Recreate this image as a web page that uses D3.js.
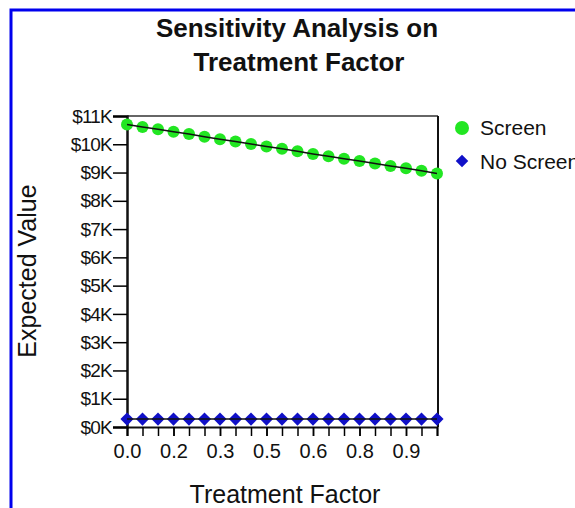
<!DOCTYPE html>
<html>
<head>
<meta charset="utf-8">
<script src="https://cdn.jsdelivr.net/npm/d3@7"></script>
<style>
  body { margin: 0; background: #fff; }
  svg { display: block; font-family: "Liberation Sans", Arial, sans-serif; }
</style>
</head>
<body>
<script>
// datos
var factor = [0, 0.05, 0.1, 0.15, 0.2, 0.25, 0.3, 0.35, 0.4, 0.45, 0.5,
              0.55, 0.6, 0.65, 0.7, 0.75, 0.8, 0.85, 0.9, 0.95, 1.0];
var screen = [10700, 10610, 10530, 10440, 10360, 10270, 10180, 10100, 10010, 9920, 9840,
              9750, 9660, 9580, 9490, 9410, 9320, 9230, 9150, 9060, 8970];
var noScreen = [280, 280, 280, 280, 280, 280, 280, 280, 280, 280, 280,
                280, 280, 280, 280, 280, 280, 280, 280, 280, 280];
var xTicks = [0, 0.15, 0.3, 0.45, 0.6, 0.75, 0.9];
var xTickLabels = ["0.0", "0.2", "0.3", "0.5", "0.6", "0.8", "0.9"];
var yTicks = [0, 1000, 2000, 3000, 4000, 5000, 6000, 7000, 8000, 9000, 10000, 11000];
var seriesNames = ["Screen", "No Screen"];

var w = 575, h = 508;
var mLeft = 127, mRight = 437, mTop = 116, mBottom = 427;

var svg = d3.select("body").append("svg")
    .attr("width", w)
    .attr("height", h);

// marco azul
svg.append("rect")
    .attr("x", 11).attr("y", 10)
    .attr("width", w + 20).attr("height", h + 20)
    .attr("fill", "none")
    .attr("stroke", "#0000ee")
    .attr("stroke-width", 3);

var xScale = d3.scaleLinear().domain([0, 1]).range([mLeft, mRight]);
var yScale = d3.scaleLinear().domain([0, 11000]).range([mBottom, mTop]);

// titulo
svg.append("text")
    .attr("x", 297).attr("y", 37)
    .attr("text-anchor", "middle")
    .attr("font-size", "26px").attr("font-weight", "bold").attr("fill", "#111")
    .text("Sensitivity Analysis on");
svg.append("text")
    .attr("x", 299).attr("y", 71)
    .attr("text-anchor", "middle")
    .attr("font-size", "26px").attr("font-weight", "bold").attr("fill", "#111")
    .text("Treatment Factor");

// lineas del marco superior y derecho
svg.append("line")
    .attr("x1", mLeft).attr("x2", mRight + 1)
    .attr("y1", mTop).attr("y2", mTop)
    .attr("stroke", "#333").attr("stroke-width", 1.5);
svg.append("line")
    .attr("x1", mRight + 1).attr("x2", mRight + 1)
    .attr("y1", mTop).attr("y2", mBottom)
    .attr("stroke", "#111").attr("stroke-width", 2);

// ejes
var yAxis = d3.axisLeft(yScale)
    .tickValues(yTicks)
    .tickSize(14)
    .tickPadding(1)
    .tickFormat(function(d) { return "$" + (d / 1000) + "K"; });

var gy = svg.append("g")
    .attr("transform", "translate(" + mLeft + ",0)")
    .call(yAxis);
gy.select(".domain").attr("stroke-width", 2.5).attr("stroke", "#111");
gy.selectAll(".tick line").attr("stroke-width", 1.5);
gy.selectAll("text").attr("font-size", "19px").attr("fill", "#111")
    .attr("letter-spacing", "-0.8px")
    .attr("font-family", "Liberation Sans, Arial, sans-serif");

var xMinor = d3.axisBottom(xScale)
    .tickValues(factor)
    .tickSize(9)
    .tickFormat("");
var gxm = svg.append("g")
    .attr("transform", "translate(0," + mBottom + ")")
    .call(xMinor);
gxm.select(".domain").attr("stroke-width", 2).attr("stroke", "#111");
gxm.selectAll(".tick line").attr("stroke-width", 1.5);

var xAxis = d3.axisBottom(xScale)
    .tickValues(xTicks)
    .tickSize(9)
    .tickPadding(8)
    .tickFormat(function(d, i) { return xTickLabels[i]; });
var gx = svg.append("g")
    .attr("transform", "translate(0," + mBottom + ")")
    .call(xAxis);
gx.select(".domain").remove();
gx.selectAll(".tick line").attr("stroke-width", 1.5);
gx.selectAll("text").attr("font-size", "20px").attr("fill", "#111")
    .attr("font-family", "Liberation Sans, Arial, sans-serif");

// titulos de ejes
svg.append("text")
    .attr("x", 285).attr("y", 503)
    .attr("text-anchor", "middle")
    .attr("font-size", "25px").attr("fill", "#111")
    .text("Treatment Factor");
svg.append("text")
    .attr("transform", "translate(36,271) rotate(-90)")
    .attr("text-anchor", "middle")
    .attr("font-size", "25px").attr("fill", "#111")
    .text("Expected Value");

// series
var line = d3.line()
    .x(function(d, i) { return xScale(factor[i]); })
    .y(function(d) { return yScale(d); });

svg.selectAll(".screen")
    .data(screen)
    .enter()
    .append("circle")
    .attr("class", "screen")
    .attr("cx", function(d, i) { return xScale(factor[i]); })
    .attr("cy", function(d) { return yScale(d); })
    .attr("r", 6)
    .attr("fill", "#22e622");

svg.selectAll(".noscreen")
    .data(noScreen)
    .enter()
    .append("path")
    .attr("class", "noscreen")
    .attr("d", d3.symbol().type(d3.symbolDiamond2).size(110))
    .attr("transform", function(d, i) {
        return "translate(" + xScale(factor[i]) + "," + yScale(d) + ")";
    })
    .attr("fill", "#1010c8");

svg.append("path")
    .datum(screen)
    .attr("d", line)
    .attr("fill", "none")
    .attr("stroke", "#111")
    .attr("stroke-width", 1.5);

svg.append("path")
    .datum(noScreen)
    .attr("d", line)
    .attr("fill", "none")
    .attr("stroke", "#111")
    .attr("stroke-width", 1.5);

// leyenda
svg.append("circle")
    .attr("cx", 462).attr("cy", 128).attr("r", 7)
    .attr("fill", "#22e622");
svg.append("path")
    .attr("d", d3.symbol().type(d3.symbolDiamond2).size(100))
    .attr("transform", "translate(462,161)")
    .attr("fill", "#1010c8");
svg.selectAll(".leg")
    .data(seriesNames)
    .enter()
    .append("text")
    .attr("class", "leg")
    .attr("x", 480)
    .attr("y", function(d, i) { return 135 + i * 34; })
    .attr("font-size", "21px").attr("fill", "#111")
    .text(function(d) { return d; });
</script>
</body>
</html>
